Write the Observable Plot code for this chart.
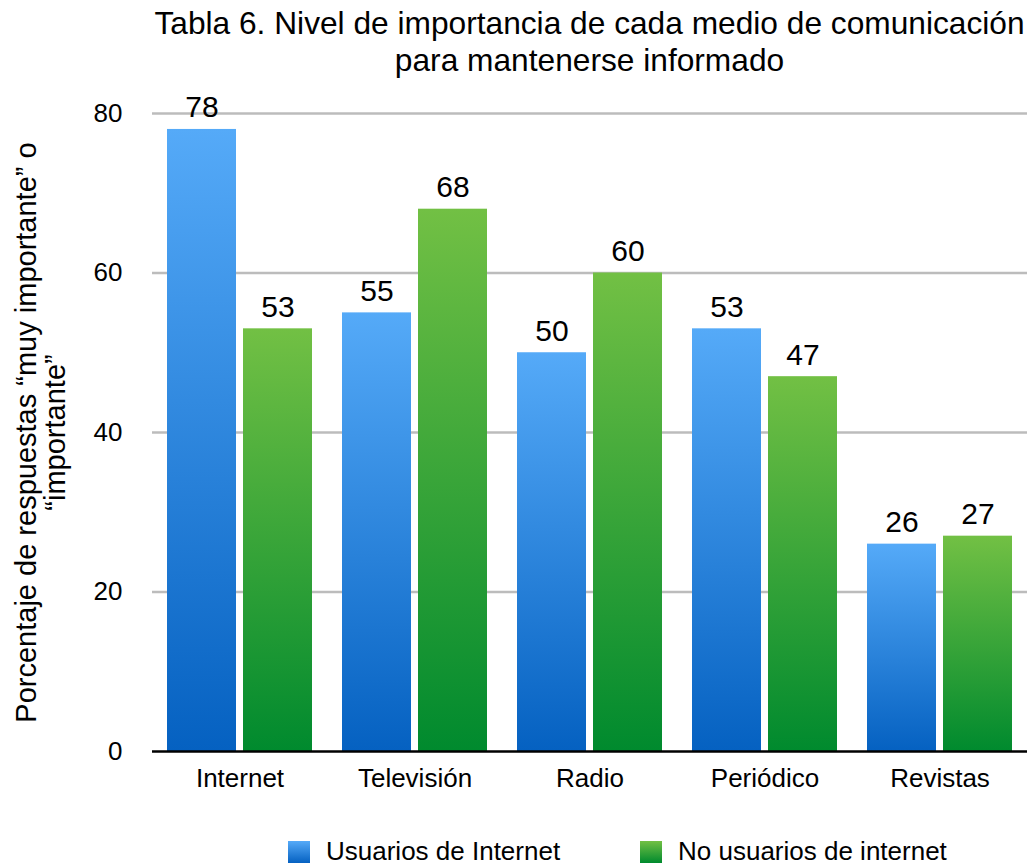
<!DOCTYPE html>
<html>
<head>
<meta charset="utf-8">
<script src="https://cdn.jsdelivr.net/npm/d3@7"></script>
<script src="https://cdn.jsdelivr.net/npm/@observablehq/plot@0.6"></script>
<style>
  html, body { margin: 0; padding: 0; background: #fff; }
  body { font-family: "Liberation Sans", Arial, sans-serif; color: #000; }
  #wrap { position: relative; width: 1029px; height: 865px; overflow: hidden; }
  #title { position: absolute; left: 150px; top: 0; width: 879px; padding-top: 5px; text-align: center; font-size: 31.7px; line-height: 37px; }
  #chart { position: absolute; left: 0; top: 90px; }
  .leg { position: absolute; top: 836px; font-size: 26px; line-height: 30px; white-space: nowrap; }
  .sw { position: absolute; top: 5px; width: 22px; height: 22px; }
  .leg span.t { position: absolute; left: 38px; top: 0; }
</style>
</head>
<body>
<div id="wrap">
  <div id="title"></div>
  <div id="chart"></div>
  <div id="legend"></div>
</div>
<script>
const categories = ["Internet", "Televisión", "Radio", "Periódico", "Revistas"];
const series = ["Usuarios de Internet", "No usuarios de internet"];
const usuarios = [78, 55, 50, 53, 26];
const noUsuarios = [53, 68, 60, 47, 27];
const yTicks = [0, 20, 40, 60, 80];
const titleLines = ["Tabla 6. Nivel de importancia de cada medio de comunicación", "para mantenerse informado"];
const yLabel = "Porcentaje de respuestas “muy importante” o\n“importante”";

const data = categories.flatMap((c, i) => [
  {medio: c, serie: series[0], valor: usuarios[i]},
  {medio: c, serie: series[1], valor: noUsuarios[i]}
]);

document.getElementById("title").innerHTML = titleLines.map(t => `<div>${t}</div>`).join("");

const chart = Plot.plot({
  width: 1029,
  height: 730,
  marginTop: 23,
  marginBottom: 69,
  marginLeft: 150,
  marginRight: 0,
  style: {fontFamily: "Liberation Sans, Arial, sans-serif", color: "#000", background: "transparent", overflow: "visible"},
  fx: {domain: categories, padding: 0, label: null, axis: null},
  x: {domain: series, paddingInner: 0.09, paddingOuter: 0.19, axis: null},
  y: {domain: [0, 80], ticks: yTicks},
  color: {domain: series, range: ["url(#gBlue)", "url(#gGreen)"]},
  marks: [
    Plot.gridY(yTicks.slice(1), {stroke: "#bcbcbc", strokeWidth: 2.5, strokeOpacity: 1}),
    Plot.axisY(yTicks, {tickSize: 0, tickPadding: 30, fontSize: 26, label: null}),
    Plot.axisY([], {label: yLabel, labelAnchor: "center", labelArrow: "none", labelOffset: 137, fontSize: 29, lineHeight: 1.15}),
    Plot.axisFx({anchor: "bottom", tickSize: 0, tickPadding: 17, fontSize: 26, label: null}),
    Plot.barY(data, {fx: "medio", x: "serie", y: "valor", fill: "serie"}),
    Plot.text(data, {fx: "medio", x: "serie", y: "valor", text: d => String(d.valor), lineAnchor: "bottom", dy: -12, fontSize: 30}),
    Plot.ruleY([0], {stroke: "#000", strokeWidth: 2.5})
  ]
});

const defs = d3.select(chart).insert("defs", ":first-child");
function grad(id, top, bottom) {
  const g = defs.append("linearGradient").attr("id", id).attr("x1", 0).attr("y1", 0).attr("x2", 0).attr("y2", 1);
  g.append("stop").attr("offset", "0%").attr("stop-color", top);
  g.append("stop").attr("offset", "100%").attr("stop-color", bottom);
}
grad("gBlue", "#55aaf8", "#0561c1");
grad("gGreen", "#72c044", "#008a2e");
document.getElementById("chart").appendChild(chart);

const legend = document.getElementById("legend");
const legPos = [288, 640];
const swatchGrad = ["linear-gradient(#55aaf8, #0561c1)", "linear-gradient(#72c044, #008a2e)"];
series.forEach((s, i) => {
  const item = document.createElement("div");
  item.className = "leg";
  item.style.left = legPos[i] + "px";
  item.innerHTML = `<div class="sw" style="background:${swatchGrad[i]}"></div><span class="t">${s}</span>`;
  legend.appendChild(item);
});
</script>
</body>
</html>
